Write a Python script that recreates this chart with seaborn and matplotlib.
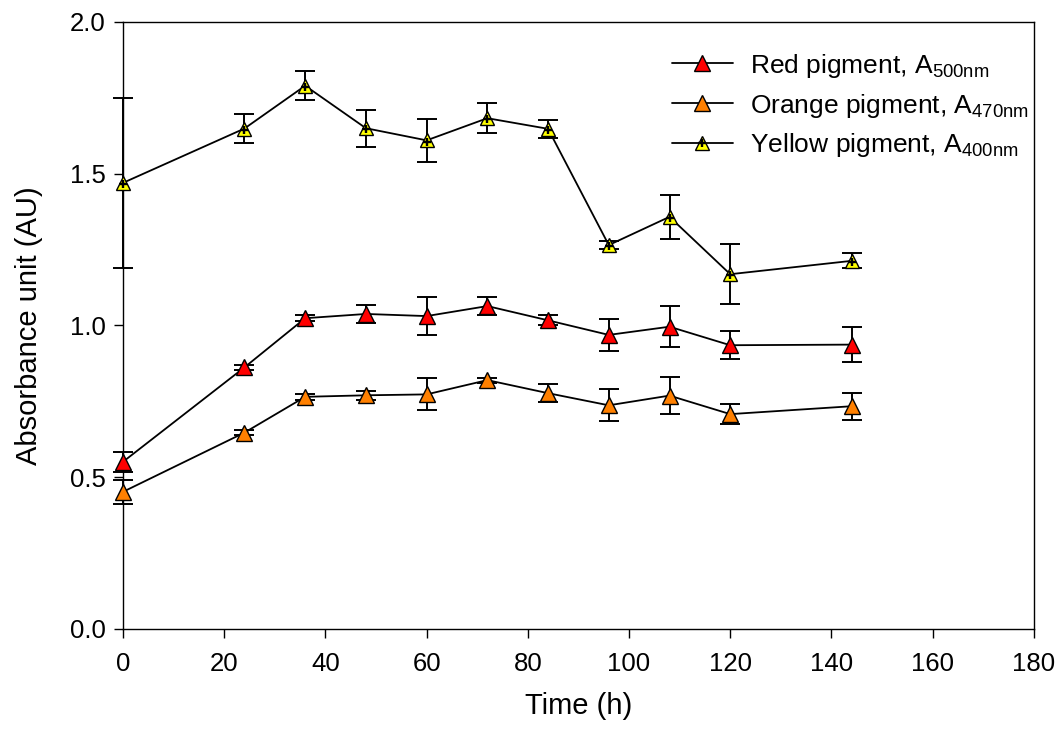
import numpy as np
import pandas as pd
import matplotlib
matplotlib.use("Agg")
import matplotlib.pyplot as plt
import seaborn as sns
from matplotlib.legend_handler import HandlerTuple

# Sampling times (h)
time_h = [0, 24, 36, 48, 60, 72, 84, 96, 108, 120, 144]

# Red pigment, absorbance at 500 nm (mean and SD)
red_mean = [0.551, 0.862, 1.024, 1.038, 1.031, 1.064, 1.017, 0.969, 0.996, 0.935, 0.937]
red_sd = [0.033, 0.008, 0.010, 0.030, 0.063, 0.030, 0.017, 0.054, 0.068, 0.047, 0.057]

# Orange pigment, absorbance at 470 nm
orange_mean = [0.452, 0.647, 0.765, 0.770, 0.773, 0.820, 0.777, 0.737, 0.769, 0.708, 0.734]
orange_sd = [0.040, 0.008, 0.010, 0.015, 0.053, 0.008, 0.029, 0.053, 0.060, 0.033, 0.044]

# Yellow pigment, absorbance at 400 nm
yellow_mean = [1.470, 1.649, 1.790, 1.650, 1.610, 1.683, 1.648, 1.265, 1.358, 1.169, 1.213]
yellow_sd = [0.281, 0.049, 0.048, 0.061, 0.070, 0.050, 0.029, 0.012, 0.072, 0.098, 0.025]

labels = [r"Red pigment, A$_{\mathregular{500nm}}$",
          r"Orange pigment, A$_{\mathregular{470nm}}$",
          r"Yellow pigment, A$_{\mathregular{400nm}}$"]
face_colors = ["#FF0000", "#FF8000", "#FFFF00"]

sns.set_theme(style="ticks")
plt.rcParams["font.family"] = ["Liberation Sans", "DejaVu Sans"]
plt.rcParams["mathtext.fontset"] = "custom"
plt.rcParams["mathtext.rm"] = "Liberation Sans"
plt.rcParams["mathtext.it"] = "Liberation Sans"
plt.rcParams["text.color"] = "black"
plt.rcParams["axes.labelcolor"] = "black"
plt.rcParams["xtick.color"] = "black"
plt.rcParams["ytick.color"] = "black"

fig = plt.figure(figsize=(10.56, 7.38), dpi=100)
ax = fig.add_axes([0.1165, 0.1477, 0.8625, 0.8225])

series = [(red_mean, red_sd, 11), (orange_mean, orange_sd, 11), (yellow_mean, yellow_sd, 10.5)]
handles = []
for (mean, sd, ms), lab, fc in zip(series, labels, face_colors):
    df = pd.DataFrame({"time": time_h, "value": mean})
    eb = ax.errorbar(df["time"], df["value"], yerr=sd, fmt="none", ecolor="black",
                     elinewidth=1.4, capsize=7.2, capthick=1.4, zorder=2)
    for art in eb.lines[1] + eb.lines[2]:
        art.set_clip_on(False)
    sns.lineplot(data=df, x="time", y="value", ax=ax, color="black", linewidth=1.3,
                 marker="^", markersize=ms, markerfacecolor=fc,
                 markeredgecolor="black", markeredgewidth=1.0, zorder=3,
                 label=lab, legend=False, clip_on=False)
    handles.append(ax.lines[-1])

# Small cross drawn inside the yellow markers
cross = ax.plot(time_h, np.array(yellow_mean) - 0.004, linestyle="none",
                marker="+", markersize=5.5, markeredgewidth=1.7, color="black",
                zorder=4, clip_on=False)[0]

leg = ax.legend([handles[0], handles[1], (handles[2], cross)], labels,
                handler_map={tuple: HandlerTuple(ndivide=1, pad=0)},
                loc="upper left", bbox_to_anchor=(0.6026, 0.951),
                frameon=False, fontsize=19, handlelength=2.3, handletextpad=0.65,
                labelspacing=0.45, borderpad=0, borderaxespad=0)

ax.set_xlim(0, 180)
ax.set_ylim(0, 2.0)
ax.set_xticks(np.arange(0, 181, 20))
ax.set_yticks([0.0, 0.5, 1.0, 1.5, 2.0])
ax.set_yticklabels(["0.0", "0.5", "1.0", "1.5", "2.0"])
ax.tick_params(axis="both", direction="out", colors="black", labelcolor="black",
               labelsize=18.5, width=1.0, length=6.5)
ax.tick_params(axis="x", pad=10)
ax.tick_params(axis="y", pad=6)
for side in ["left", "right", "top", "bottom"]:
    ax.spines[side].set_visible(True)
    ax.spines[side].set_color("black")
    ax.spines[side].set_linewidth(1.0)

ax.set_xlabel("Time (h)", fontsize=21, va="center", color="black")
ax.set_ylabel("Absorbance unit (AU)", fontsize=21, va="center", color="black")
ax.xaxis.set_label_coords(0.5, -0.127)
ax.yaxis.set_label_coords(-0.103, 0.5)

fig.savefig("out.png", dpi=100, facecolor="white")
